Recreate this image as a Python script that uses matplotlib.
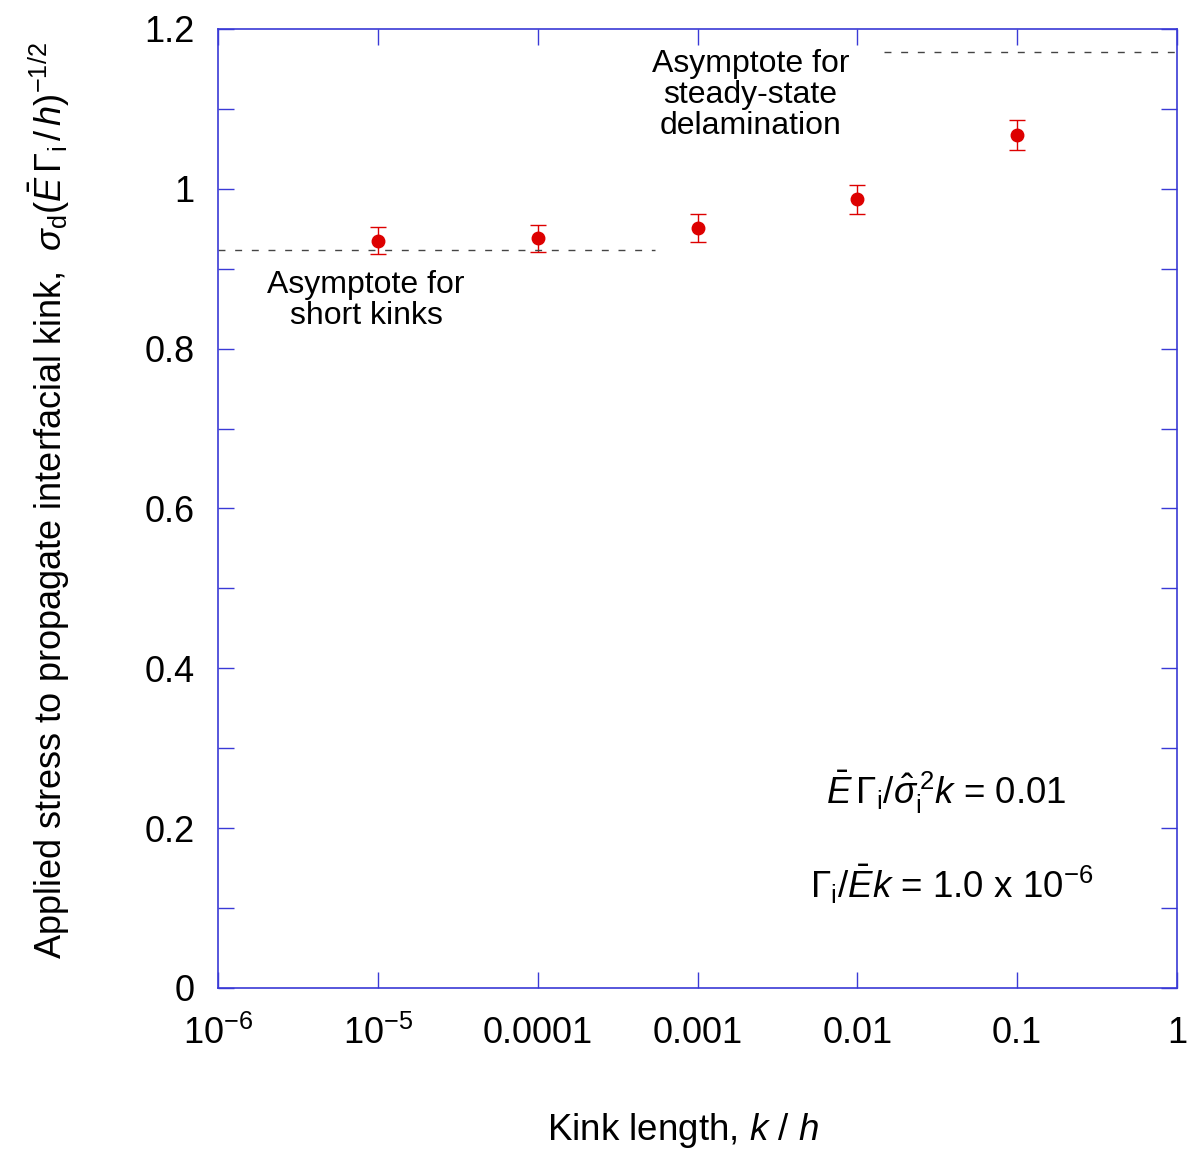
import matplotlib.pyplot as plt
import numpy as np

plt.rcParams['font.family'] = ['Liberation Sans', 'DejaVu Sans']
plt.rcParams['mathtext.fontset'] = 'custom'
plt.rcParams['mathtext.rm'] = 'Liberation Sans'
plt.rcParams['mathtext.it'] = 'Liberation Sans:italic'
plt.rcParams['mathtext.sf'] = 'Liberation Sans'

# data
kink_length = [1e-5, 1e-4, 1e-3, 1e-2, 1e-1]
stress = [0.935, 0.938, 0.951, 0.987, 1.067]
stress_err = [0.017, 0.017, 0.017, 0.018, 0.019]

short_asym = 0.923
short_asym_x = [1e-6, 5.4e-4]
steady_asym = 1.171
steady_asym_x = [0.0147, 1.0]

xticks = [1e-6, 1e-5, 1e-4, 1e-3, 1e-2, 1e-1, 1]
xticklabels = [r'$10^{-6}$', r'$10^{-5}$', '0.0001', '0.001', '0.01', '0.1', '1']
yticks = [0, 0.2, 0.4, 0.6, 0.8, 1.0, 1.2]
yticklabels = ['0', '0.2', '0.4', '0.6', '0.8', '1', '1.2']

frame = '#3a3ad6'
red = '#dd0000'

fig = plt.figure(figsize=(11.89, 11.55), dpi=100)
ax = fig.add_axes([0.1834, 0.1446, 0.8065, 0.8303])

ax.errorbar(kink_length, stress, yerr=stress_err, fmt='o', color=red,
            markersize=9, capsize=5.5, elinewidth=1, capthick=1)

ax.plot(short_asym_x, [short_asym, short_asym], color='#444444', lw=1,
        dashes=(5, 7))
ax.plot(steady_asym_x, [steady_asym, steady_asym], color='#444444', lw=1,
        dashes=(5, 7))

ax.set_xscale('log')
ax.set_xlim(1e-6, 1)
ax.set_ylim(0, 1.2)
ax.set_xticks(xticks)
ax.set_xticklabels(xticklabels)
ax.minorticks_off()
ax.set_yticks(yticks)
ax.set_yticklabels(yticklabels)
ax.set_yticks(np.arange(0.1, 1.2, 0.2), minor=True)

for s in ax.spines.values():
    s.set_color(frame)
    s.set_linewidth(1.2)
ax.tick_params(which='both', direction='in', length=11.5, width=1,
               color=frame, top=True, right=True, labelsize=26)
ax.tick_params(axis='x', which='major', pad=20)
ax.tick_params(axis='y', which='both', pad=17)

ax.set_xlabel(r'Kink length, $k$ / $h$', fontsize=26.5)
ax.xaxis.set_label_coords(0.485, -0.128)
ax.set_ylabel(r'Applied stress to propagate interfacial kink,  '
              r'$\sigma_\mathrm{d}(\bar{E}\,\Gamma_\mathrm{i}\,/\,h)^{-1/2}$',
              fontsize=26)
ax.yaxis.set_label_coords(-0.152, 0.508)

ax.text(10 ** -5.074, 0.86, 'Asymptote for\nshort kinks',
        ha='center', va='center', fontsize=23, linespacing=1.05)
ax.text(10 ** -2.67, 1.117, 'Asymptote for\nsteady-state\ndelamination',
        ha='center', va='center', fontsize=23, linespacing=1.05)

ax.text(10 ** -1.444, 0.245,
        r'$\bar{E}\,\Gamma_\mathrm{i}/\hat{\sigma}_\mathrm{i}^{\,2}k$ = 0.01',
        ha='center', va='center', fontsize=26.5)
ax.text(10 ** -1.407, 0.13,
        r'$\Gamma_\mathrm{i}/\bar{E}k$ = 1.0 x $10^{-6}$',
        ha='center', va='center', fontsize=26.5)

fig.savefig('out.png', dpi=100)
